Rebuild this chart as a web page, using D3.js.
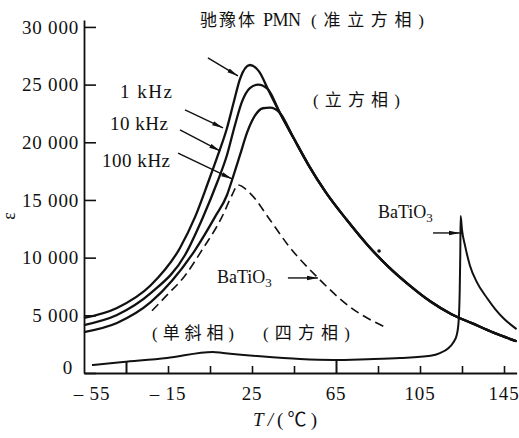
<!DOCTYPE html>
<html><head><meta charset="utf-8">
<script src="https://cdn.jsdelivr.net/npm/d3@7"></script>
<style>body{margin:0;background:#fff}svg{display:block}</style>
</head><body><svg id="c" width="519" height="438"></svg>
<script>
// ---------- data ----------
const xTickValues = [-35, -15, 5, 25, 45, 65, 85, 105, 125, 145];
const xLabelValues = [-55, -15, 25, 65, 105, 145];
const xLabelTexts = ["\u2013 55", "\u2013 15", "25", "65", "105", "145"];
const yTickValues = [0, 5000, 10000, 15000, 20000, 25000, 30000];
const yTickLabels = ["0", "5 000", "10 000", "15 000", "20 000", "25 000", "30 000"];

// PMN common paraelectric (cubic) branch, T (°C), permittivity
const pmnFalling = [[45,20300],[52,18000],[60,15700],[70,13300],[80,11100],[90,9200],[100,7600],[110,6200],[120,5100],[130,4300],[140,3500],[151,2750]];
const pmn1kHz = [[-55,4770],[-39.3,5640],[-23.1,7630],[-9.3,10840],[-2.1,13530],[4.0,16470],[8.8,18900],[13.1,21240],[16.2,23400],[19.3,25500],[24.0,26700],[28.5,26100],[32.6,24600],[38.3,22540]];
const pmn10kHz = [[-55,4160],[-39.3,5030],[-23.1,6940],[-6.9,10230],[1.7,13530],[8.3,16470],[13.1,18900],[16.9,21500],[20.2,23500],[24.0,24700],[27.9,25000],[32.6,24600],[38.3,22540]];
const pmn100kHz = [[-55,3550],[-39.3,4340],[-23.1,6160],[-2.1,10660],[7.4,13530],[13.1,15430],[15.5,16730],[19.3,18900],[22.6,20810],[26.4,22300],[30.2,22950],[33.6,23000],[38.3,22540]];
// BaTiO3 (dashed) curve
const batioDashed = [[-22.6,5400],[-15.5,6750],[-7.4,8320],[1.2,10660],[10.7,13530],[15.5,15430],[18.3,16300],[24.0,15600],[33.6,13270],[42.1,11100],[56.0,8320],[71.7,5720],[89.3,3900]];
// BaTiO3 (solid) curve
const batioSolid = [[-51.2,690],[-36.4,950],[-15.5,1300],[6.4,1820],[11.2,1730],[27.4,1470],[47.9,1210],[63.6,1130],[80,1200],[95.5,1300],[110,1500],[114.5,1730],[118.5,2150],[120.7,2600],[122.5,3300],[123.4,4500],[123.9,7000],[124.2,10500],[124.35,13600],[125.0,12400],[126.5,11000],[128.8,9300],[132,7900],[136.9,6500],[141,5500],[145,4700],[151,3800]];

// annotations (anchored in data units)
const labelTexts = ["1 kHz", "10 kHz", "100 kHz", "(立方相)", "(单斜相)", "(四方相)"];
const labelT = [-37.9, -42.6, -46.4, 54.0, -22.6, 30.2];
const labelE = [23840, 21070, 17860, 23150, 2950, 2950];
const labelLen = [52, 58, 68, 87, 82, 87];
const batioLabelT = [85.0, 8.3];
const batioLabelE = [13440, 7800];
const arrowFrom = [[4.0,27310],[-6.9,22800],[-9.3,21070],[-10.2,19070],[111.2,12140],[42.1,8240]];
const arrowTo = [[18.3,25750],[11.2,21240],[9.8,19250],[15.5,16820],[124.0,12140],[56.4,8240]];
const dotPoint = [85.5, 10580];

// ---------- drawing ----------
const svg = d3.select("#c");
svg.append("rect").attr("width", 519).attr("height", 438).attr("fill", "#fff");
const ink = "#111";
const font = "'Liberation Serif', 'Noto Sans CJK SC', serif";

const x = d3.scaleLinear().domain([-55, 151]).range([84, 516.6]);
const y = d3.scaleLinear().domain([0, 30600]).range([373, 20]);

svg.append("defs").append("marker")
  .attr("id", "ah").attr("markerUnits", "userSpaceOnUse")
  .attr("markerWidth", 12).attr("markerHeight", 8)
  .attr("refX", 11).attr("refY", 3).attr("orient", "auto")
  .append("path").attr("d", "M0,0.8L11,3L0,5.2Z").attr("fill", ink);

// axes
const yAxis = svg.append("g").attr("transform", `translate(${x(-55)},0)`)
  .call(d3.axisLeft(y).tickValues(yTickValues).tickFormat((d, i) => yTickLabels[i])
    .tickSize(-12).tickPadding(5).tickSizeOuter(0));
yAxis.select(".domain").attr("stroke", ink).attr("stroke-width", 1.8);
yAxis.selectAll(".tick line").attr("stroke", ink).attr("stroke-width", 1.6);
yAxis.selectAll(".tick text").attr("fill", ink).attr("font-family", font)
  .attr("font-size", 19).attr("letter-spacing", 0.8)
  .filter(d => d === 0).attr("dy", "0.05em").attr("dx", -6);

const xAxis = svg.append("g").attr("transform", `translate(0,${y(0)})`)
  .call(d3.axisBottom(x).tickValues(xTickValues).tickFormat("").tickSize(-7).tickSizeOuter(0));
xAxis.select(".domain").attr("stroke", ink).attr("stroke-width", 1.8);
xAxis.selectAll(".tick line").attr("stroke", ink).attr("stroke-width", 1.6)
  .filter(d => d === -35 || d === 65).attr("y2", -12).attr("stroke-width", 2);

svg.append("g").selectAll("text").data(xLabelValues).join("text")
  .attr("x", (d, i) => x(d) + (i === 0 ? 8 : 0)).attr("y", y(0) + 27)
  .attr("text-anchor", "middle").attr("font-family", font).attr("font-size", 19)
  .attr("letter-spacing", 0.8).attr("fill", ink)
  .text((d, i) => xLabelTexts[i]);

// curves
const line = d3.line().x(d => x(d[0])).y(d => y(d[1])).curve(d3.curveMonotoneX);
[pmn1kHz, pmn10kHz, pmn100kHz].forEach(s => {
  svg.append("path").attr("d", line(s.concat(pmnFalling))).attr("fill", "none")
    .attr("stroke", ink).attr("stroke-width", 2.3).attr("stroke-linejoin", "round");
});
svg.append("path").attr("d", line(batioDashed)).attr("fill", "none")
  .attr("stroke", ink).attr("stroke-width", 1.6).attr("stroke-dasharray", "9,5");
svg.append("path").attr("d", line(batioSolid)).attr("fill", "none")
  .attr("stroke", ink).attr("stroke-width", 2).attr("stroke-linejoin", "round");

// arrows
arrowFrom.forEach((f, i) => {
  svg.append("line").attr("x1", x(f[0])).attr("y1", y(f[1]))
    .attr("x2", x(arrowTo[i][0])).attr("y2", y(arrowTo[i][1]))
    .attr("stroke", ink).attr("stroke-width", 1.4).attr("marker-end", "url(#ah)");
});
svg.append("circle").attr("cx", x(dotPoint[0])).attr("cy", y(dotPoint[1])).attr("r", 1.8).attr("fill", ink);

// labels
labelTexts.forEach((t, i) => {
  const cjk = /[\u4e00-\u9fff]/.test(t);
  svg.append("text").attr("x", x(labelT[i])).attr("y", y(labelE[i]))
    .attr("font-family", font).attr("font-size", cjk ? 17 : 19).attr("fill", ink)
    .attr("textLength", labelLen[i]).attr("lengthAdjust", "spacing").text(t);
});
batioLabelT.forEach((t, i) => {
  const tx = svg.append("text").attr("x", x(t)).attr("y", y(batioLabelE[i]))
    .attr("font-family", font).attr("font-size", 18).attr("fill", ink);
  tx.append("tspan").text("BaTiO");
  tx.append("tspan").attr("font-size", 13).attr("dy", 4).text("3");
});

// title (three runs to mimic the original spacing) and axis titles
const titleParts = ["驰豫体", "PMN", "(准立方相)"];
const titleX = [200, 263, 311];
const titleLen = [55, 38, 113];
titleParts.forEach((t, i) => {
  svg.append("text").attr("x", titleX[i]).attr("y", 26).attr("font-family", font)
    .attr("font-size", i === 1 ? 18 : 17).attr("fill", ink)
    .attr("textLength", titleLen[i]).attr("lengthAdjust", "spacing").text(t);
});
const xt = svg.append("text").attr("x", 253).attr("y", 426).attr("font-family", font)
  .attr("font-size", 19).attr("fill", ink).attr("textLength", 64).attr("lengthAdjust", "spacing");
xt.append("tspan").attr("font-style", "italic").text("T/");
xt.append("tspan").text("(℃)");
svg.append("text").attr("transform", "translate(15,216) rotate(-90)")
  .attr("text-anchor", "middle").attr("font-family", font).attr("font-size", 18)
  .attr("fill", ink).text("ε");
</script></body></html>
